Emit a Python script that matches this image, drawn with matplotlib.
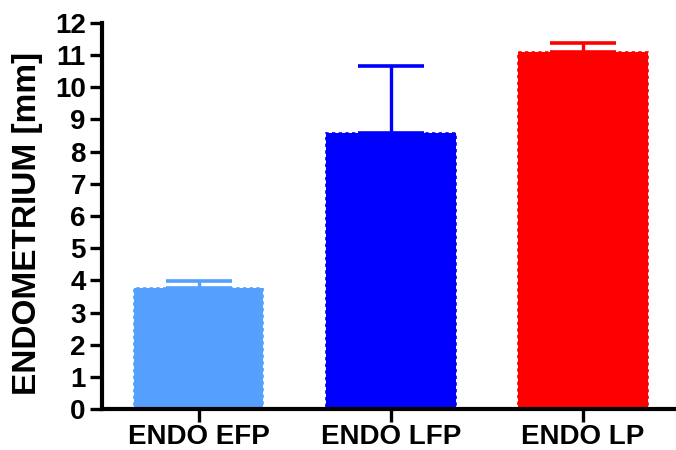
import matplotlib

matplotlib.use("Agg")
import matplotlib.pyplot as plt

plt.rcParams["font.family"] = ["Liberation Sans", "DejaVu Sans"]
plt.rcParams["font.weight"] = "bold"

groups = ["ENDO EFP", "ENDO LFP", "ENDO LP"]
means = [3.76, 8.59, 11.10]
sem = [0.23, 2.08, 0.29]
colors = ["#559FFF", "#0000FF", "#FF0000"]
yticks = list(range(0, 13))

fig = plt.figure(figsize=(6.76, 4.5), dpi=100)
ax = fig.add_axes([0.1516, 0.0911, 0.847, 0.8578])

x = range(len(groups))
for i, (m, e, c) in enumerate(zip(means, sem, colors)):
    ax.bar(i, m, width=0.675, color=c, edgecolor=c, lw=1.2,
           ls=(0, (2, 2)), zorder=2)
    # upper-only error bar, Prism style
    ax.errorbar(i, m, yerr=[[0], [e]], fmt="none", ecolor=c, elinewidth=2.4,
                capsize=24, capthick=2.6, zorder=3)

ax.set_xlim(-0.5, 2.48)
ax.set_ylim(0, 12)
ax.set_yticks(yticks)
ax.set_xticks(list(x))
ax.set_xticklabels(groups, fontsize=20, fontweight="bold")
ax.set_yticklabels([str(t) for t in yticks], fontsize=20, fontweight="bold")
ax.set_ylabel("ENDOMETRIUM [mm]", fontsize=24, fontweight="bold")
ax.yaxis.set_label_coords(-0.104, 0.482)

for s in ("top", "right"):
    ax.spines[s].set_visible(False)
for s in ("left", "bottom"):
    ax.spines[s].set_linewidth(3)
ax.tick_params(width=2.4, length=9)
ax.tick_params(axis="x", pad=2)
ax.tick_params(axis="y", pad=3)

fig.savefig("out.png", dpi=100)
